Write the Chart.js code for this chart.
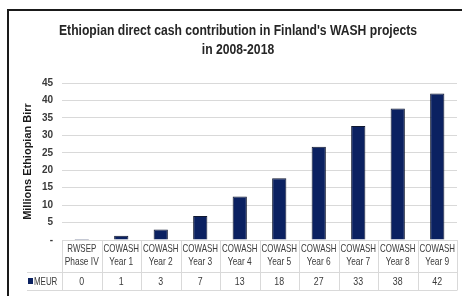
<!DOCTYPE html>
<html>
<head>
<meta charset="utf-8">
<script src="https://cdn.jsdelivr.net/npm/chart.js@4"></script>
<style>
  body { margin: 0; background: #fff; }
  #wrap { width: 462px; height: 296px; }
</style>
</head>
<body>
<div id="wrap"><canvas id="chart" width="462" height="296"></canvas></div>
<script>
// Data
const categories = [
  ["RWSEP", "Phase IV"],
  ["COWASH", "Year 1"],
  ["COWASH", "Year 2"],
  ["COWASH", "Year 3"],
  ["COWASH", "Year 4"],
  ["COWASH", "Year 5"],
  ["COWASH", "Year 6"],
  ["COWASH", "Year 7"],
  ["COWASH", "Year 8"],
  ["COWASH", "Year 9"],
];
const meurValues = [0.3, 1.2, 3.0, 6.9, 12.5, 17.7, 26.7, 32.7, 37.7, 42.0];
const tableLabels = ["0", "1", "3", "7", "13", "18", "27", "33", "38", "42"];
const seriesName = "MEUR";
const titleLines = [
  "Ethiopian direct cash contribution in Finland's WASH projects",
  "in 2008-2018",
];

const FONT = "'Liberation Sans', Arial, sans-serif";
const TEXT_COLOR = "#3a3a3a";
const GRID_COLOR = "#d9d9d9";
const BAR_COLOR = "#0b2161";
const NARROW = 0.8; // squeeze to approximate Calibri widths

// text squeezed horizontally around its anchor
function narrowText(ctx, text, x, y, sx) {
  ctx.save();
  ctx.translate(x, y);
  ctx.scale(sx, 1);
  ctx.fillText(text, 0, 0);
  ctx.restore();
}

// Draws the frame, title and the Excel-style data table under the bars
const decorations = {
  id: "decorations",
  afterDraw(chart) {
    const ctx = chart.ctx;
    const x = chart.scales.x;
    const area = chart.chartArea;
    ctx.save();

    // frame (left + top)
    ctx.strokeStyle = "#1a1a1a";
    ctx.lineWidth = 2;
    ctx.beginPath();
    ctx.moveTo(8, 296);
    ctx.lineTo(8, 10);
    ctx.lineTo(462, 10);
    ctx.stroke();

    // title, fitted to the reference width
    ctx.fillStyle = "#262626";
    ctx.font = "bold 14px " + FONT;
    ctx.textAlign = "center";
    ctx.textBaseline = "alphabetic";
    const sx = 358 / ctx.measureText(titleLines[0]).width;
    narrowText(ctx, titleLines[0], 238, 35, sx);
    narrowText(ctx, titleLines[1], 238, 54, sx);

    // table grid
    const rowTop = area.bottom;
    const rowMid = 272.5;
    const rowBot = 290.5;
    const half = (x.getPixelForValue(1) - x.getPixelForValue(0)) / 2;
    ctx.strokeStyle = GRID_COLOR;
    ctx.lineWidth = 1;
    ctx.beginPath();
    ctx.moveTo(area.left, rowTop + 0.5);
    ctx.lineTo(area.right, rowTop + 0.5);
    ctx.moveTo(27, rowMid);
    ctx.lineTo(area.right, rowMid);
    ctx.moveTo(27, rowBot);
    ctx.lineTo(area.right, rowBot);
    for (let i = 0; i <= categories.length; i++) {
      const px = Math.round(x.getPixelForValue(i) - half) + 0.5;
      ctx.moveTo(px, rowTop);
      ctx.lineTo(px, rowBot);
    }
    ctx.stroke();

    // table text
    ctx.fillStyle = TEXT_COLOR;
    ctx.font = "11px " + FONT;
    ctx.textAlign = "center";
    categories.forEach((lines, i) => {
      const cx = x.getPixelForValue(i);
      narrowText(ctx, lines[0], cx, 252, 0.72);
      narrowText(ctx, lines[1], cx, 265, 0.76);
      narrowText(ctx, tableLabels[i], cx, 285, NARROW);
    });

    // legend key
    ctx.fillStyle = BAR_COLOR;
    ctx.fillRect(28, 278, 5, 6);
    ctx.fillStyle = TEXT_COLOR;
    ctx.textAlign = "left";
    narrowText(ctx, seriesName, 34, 285, 0.72);
    ctx.restore();
  },
};

new Chart(document.getElementById("chart"), {
  type: "bar",
  data: {
    labels: categories,
    datasets: [
      {
        label: seriesName,
        data: meurValues,
        backgroundColor: BAR_COLOR,
        borderColor: "#101830",
        borderWidth: 1,
        categoryPercentage: 1,
        barPercentage: 0.36,
      },
    ],
  },
  options: {
    responsive: false,
    animation: false,
    devicePixelRatio: 1,
    layout: { padding: { top: 83, left: 21, right: 5, bottom: 56 } },
    plugins: {
      legend: { display: false },
      title: { display: false },
      tooltip: { enabled: false },
    },
    scales: {
      x: { display: false, offset: true },
      y: {
        min: 0,
        max: 45,
        afterFit(scale) { scale.width = 41; },
        border: { display: false },
        grid: { color: GRID_COLOR, drawTicks: false },
        ticks: {
          stepSize: 5,
          padding: 9,
          color: TEXT_COLOR,
          font: { family: FONT, size: 10, weight: "bold" },
          callback: (v) => (v === 0 ? "-" : v),
        },
        title: {
          display: true,
          text: "Millions Ethiopian Birr",
          color: "#1a1a1a",
          font: { family: FONT, size: 11, weight: "bold" },
          padding: { top: 0, bottom: 0 },
        },
      },
    },
  },
  plugins: [decorations],
});
</script>
</body>
</html>
